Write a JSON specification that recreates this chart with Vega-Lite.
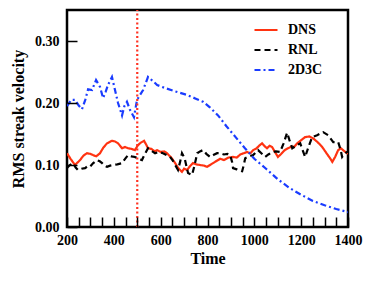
{
  "$schema": "https://vega.github.io/schema/vega-lite/v6.json",
  "autosize": "none",
  "width": 281,
  "height": 217,
  "padding": {"left": 67, "top": 10, "right": 26, "bottom": 57},
  "background": "white",
  "config": {
    "view": {"stroke": "black", "strokeWidth": 2.5}
  },
  "datasets": {
    "curves": [
      {"t": 200, "v": 0.119, "s": "DNS"}, {"t": 215, "v": 0.110, "s": "DNS"}, {"t": 234, "v": 0.100, "s": "DNS"}, {"t": 256, "v": 0.108, "s": "DNS"}, {"t": 270, "v": 0.115, "s": "DNS"}, {"t": 285, "v": 0.119, "s": "DNS"}, {"t": 300, "v": 0.118, "s": "DNS"}, {"t": 311, "v": 0.116, "s": "DNS"}, {"t": 325, "v": 0.114, "s": "DNS"}, {"t": 341, "v": 0.119, "s": "DNS"}, {"t": 355, "v": 0.128, "s": "DNS"}, {"t": 371, "v": 0.135, "s": "DNS"}, {"t": 392, "v": 0.139, "s": "DNS"}, {"t": 405, "v": 0.138, "s": "DNS"}, {"t": 418, "v": 0.135, "s": "DNS"}, {"t": 435, "v": 0.127, "s": "DNS"}, {"t": 448, "v": 0.129, "s": "DNS"}, {"t": 461, "v": 0.127, "s": "DNS"}, {"t": 475, "v": 0.126, "s": "DNS"}, {"t": 490, "v": 0.124, "s": "DNS"}, {"t": 503, "v": 0.132, "s": "DNS"}, {"t": 515, "v": 0.136, "s": "DNS"}, {"t": 529, "v": 0.139, "s": "DNS"}, {"t": 538, "v": 0.133, "s": "DNS"}, {"t": 546, "v": 0.127, "s": "DNS"}, {"t": 560, "v": 0.126, "s": "DNS"}, {"t": 575, "v": 0.122, "s": "DNS"}, {"t": 585, "v": 0.124, "s": "DNS"}, {"t": 600, "v": 0.121, "s": "DNS"}, {"t": 615, "v": 0.122, "s": "DNS"}, {"t": 627, "v": 0.119, "s": "DNS"}, {"t": 645, "v": 0.112, "s": "DNS"}, {"t": 662, "v": 0.103, "s": "DNS"}, {"t": 675, "v": 0.095, "s": "DNS"}, {"t": 691, "v": 0.089, "s": "DNS"}, {"t": 700, "v": 0.094, "s": "DNS"}, {"t": 713, "v": 0.092, "s": "DNS"}, {"t": 725, "v": 0.098, "s": "DNS"}, {"t": 738, "v": 0.103, "s": "DNS"}, {"t": 752, "v": 0.101, "s": "DNS"}, {"t": 768, "v": 0.100, "s": "DNS"}, {"t": 785, "v": 0.099, "s": "DNS"}, {"t": 798, "v": 0.097, "s": "DNS"}, {"t": 815, "v": 0.101, "s": "DNS"}, {"t": 832, "v": 0.105, "s": "DNS"}, {"t": 854, "v": 0.110, "s": "DNS"}, {"t": 870, "v": 0.108, "s": "DNS"}, {"t": 890, "v": 0.112, "s": "DNS"}, {"t": 909, "v": 0.113, "s": "DNS"}, {"t": 925, "v": 0.112, "s": "DNS"}, {"t": 940, "v": 0.117, "s": "DNS"}, {"t": 955, "v": 0.119, "s": "DNS"}, {"t": 969, "v": 0.121, "s": "DNS"}, {"t": 983, "v": 0.119, "s": "DNS"}, {"t": 995, "v": 0.124, "s": "DNS"}, {"t": 1010, "v": 0.127, "s": "DNS"}, {"t": 1020, "v": 0.131, "s": "DNS"}, {"t": 1033, "v": 0.135, "s": "DNS"}, {"t": 1045, "v": 0.130, "s": "DNS"}, {"t": 1054, "v": 0.127, "s": "DNS"}, {"t": 1065, "v": 0.131, "s": "DNS"}, {"t": 1076, "v": 0.129, "s": "DNS"}, {"t": 1088, "v": 0.121, "s": "DNS"}, {"t": 1101, "v": 0.113, "s": "DNS"}, {"t": 1115, "v": 0.118, "s": "DNS"}, {"t": 1130, "v": 0.124, "s": "DNS"}, {"t": 1144, "v": 0.127, "s": "DNS"}, {"t": 1160, "v": 0.130, "s": "DNS"}, {"t": 1170, "v": 0.129, "s": "DNS"}, {"t": 1183, "v": 0.135, "s": "DNS"}, {"t": 1200, "v": 0.140, "s": "DNS"}, {"t": 1217, "v": 0.145, "s": "DNS"}, {"t": 1235, "v": 0.146, "s": "DNS"}, {"t": 1251, "v": 0.143, "s": "DNS"}, {"t": 1270, "v": 0.137, "s": "DNS"}, {"t": 1290, "v": 0.129, "s": "DNS"}, {"t": 1310, "v": 0.118, "s": "DNS"}, {"t": 1325, "v": 0.110, "s": "DNS"}, {"t": 1333, "v": 0.105, "s": "DNS"}, {"t": 1345, "v": 0.113, "s": "DNS"}, {"t": 1358, "v": 0.124, "s": "DNS"}, {"t": 1370, "v": 0.127, "s": "DNS"}, {"t": 1385, "v": 0.122, "s": "DNS"}, {"t": 1400, "v": 0.118, "s": "DNS"},

      {"t": 200, "v": 0.095, "s": "RNL"}, {"t": 212, "v": 0.100, "s": "RNL"}, {"t": 226, "v": 0.103, "s": "RNL"}, {"t": 237, "v": 0.096, "s": "RNL"}, {"t": 247, "v": 0.092, "s": "RNL"}, {"t": 262, "v": 0.094, "s": "RNL"}, {"t": 277, "v": 0.095, "s": "RNL"}, {"t": 288, "v": 0.098, "s": "RNL"}, {"t": 298, "v": 0.097, "s": "RNL"}, {"t": 312, "v": 0.103, "s": "RNL"}, {"t": 328, "v": 0.108, "s": "RNL"}, {"t": 340, "v": 0.106, "s": "RNL"}, {"t": 350, "v": 0.103, "s": "RNL"}, {"t": 360, "v": 0.099, "s": "RNL"}, {"t": 371, "v": 0.097, "s": "RNL"}, {"t": 384, "v": 0.099, "s": "RNL"}, {"t": 397, "v": 0.100, "s": "RNL"}, {"t": 415, "v": 0.101, "s": "RNL"}, {"t": 435, "v": 0.103, "s": "RNL"}, {"t": 448, "v": 0.110, "s": "RNL"}, {"t": 461, "v": 0.116, "s": "RNL"}, {"t": 475, "v": 0.114, "s": "RNL"}, {"t": 490, "v": 0.113, "s": "RNL"}, {"t": 505, "v": 0.110, "s": "RNL"}, {"t": 520, "v": 0.108, "s": "RNL"}, {"t": 533, "v": 0.118, "s": "RNL"}, {"t": 546, "v": 0.127, "s": "RNL"}, {"t": 560, "v": 0.123, "s": "RNL"}, {"t": 576, "v": 0.119, "s": "RNL"}, {"t": 592, "v": 0.121, "s": "RNL"}, {"t": 610, "v": 0.119, "s": "RNL"}, {"t": 625, "v": 0.116, "s": "RNL"}, {"t": 640, "v": 0.113, "s": "RNL"}, {"t": 652, "v": 0.107, "s": "RNL"}, {"t": 662, "v": 0.100, "s": "RNL"}, {"t": 674, "v": 0.092, "s": "RNL"}, {"t": 683, "v": 0.105, "s": "RNL"}, {"t": 691, "v": 0.119, "s": "RNL"}, {"t": 698, "v": 0.114, "s": "RNL"}, {"t": 704, "v": 0.108, "s": "RNL"}, {"t": 717, "v": 0.087, "s": "RNL"}, {"t": 734, "v": 0.084, "s": "RNL"}, {"t": 745, "v": 0.100, "s": "RNL"}, {"t": 756, "v": 0.119, "s": "RNL"}, {"t": 768, "v": 0.122, "s": "RNL"}, {"t": 781, "v": 0.124, "s": "RNL"}, {"t": 795, "v": 0.118, "s": "RNL"}, {"t": 811, "v": 0.113, "s": "RNL"}, {"t": 825, "v": 0.116, "s": "RNL"}, {"t": 841, "v": 0.119, "s": "RNL"}, {"t": 854, "v": 0.119, "s": "RNL"}, {"t": 870, "v": 0.117, "s": "RNL"}, {"t": 885, "v": 0.118, "s": "RNL"}, {"t": 897, "v": 0.116, "s": "RNL"}, {"t": 905, "v": 0.105, "s": "RNL"}, {"t": 909, "v": 0.095, "s": "RNL"}, {"t": 925, "v": 0.093, "s": "RNL"}, {"t": 940, "v": 0.091, "s": "RNL"}, {"t": 948, "v": 0.090, "s": "RNL"}, {"t": 955, "v": 0.100, "s": "RNL"}, {"t": 961, "v": 0.111, "s": "RNL"}, {"t": 978, "v": 0.114, "s": "RNL"}, {"t": 995, "v": 0.116, "s": "RNL"}, {"t": 1005, "v": 0.120, "s": "RNL"}, {"t": 1016, "v": 0.124, "s": "RNL"}, {"t": 1030, "v": 0.119, "s": "RNL"}, {"t": 1046, "v": 0.113, "s": "RNL"}, {"t": 1060, "v": 0.117, "s": "RNL"}, {"t": 1076, "v": 0.121, "s": "RNL"}, {"t": 1092, "v": 0.122, "s": "RNL"}, {"t": 1110, "v": 0.121, "s": "RNL"}, {"t": 1125, "v": 0.135, "s": "RNL"}, {"t": 1140, "v": 0.152, "s": "RNL"}, {"t": 1150, "v": 0.140, "s": "RNL"}, {"t": 1162, "v": 0.127, "s": "RNL"}, {"t": 1178, "v": 0.131, "s": "RNL"}, {"t": 1196, "v": 0.135, "s": "RNL"}, {"t": 1205, "v": 0.125, "s": "RNL"}, {"t": 1217, "v": 0.113, "s": "RNL"}, {"t": 1232, "v": 0.130, "s": "RNL"}, {"t": 1247, "v": 0.145, "s": "RNL"}, {"t": 1268, "v": 0.148, "s": "RNL"}, {"t": 1294, "v": 0.153, "s": "RNL"}, {"t": 1315, "v": 0.148, "s": "RNL"}, {"t": 1337, "v": 0.137, "s": "RNL"}, {"t": 1358, "v": 0.137, "s": "RNL"}, {"t": 1368, "v": 0.125, "s": "RNL"}, {"t": 1375, "v": 0.113, "s": "RNL"}, {"t": 1385, "v": 0.118, "s": "RNL"}, {"t": 1400, "v": 0.122, "s": "RNL"},

      {"t": 200, "v": 0.195, "s": "2D3C"}, {"t": 218, "v": 0.205, "s": "2D3C"}, {"t": 234, "v": 0.205, "s": "2D3C"}, {"t": 250, "v": 0.196, "s": "2D3C"}, {"t": 264, "v": 0.190, "s": "2D3C"}, {"t": 278, "v": 0.205, "s": "2D3C"}, {"t": 290, "v": 0.222, "s": "2D3C"}, {"t": 307, "v": 0.221, "s": "2D3C"}, {"t": 324, "v": 0.237, "s": "2D3C"}, {"t": 341, "v": 0.226, "s": "2D3C"}, {"t": 354, "v": 0.208, "s": "2D3C"}, {"t": 365, "v": 0.218, "s": "2D3C"}, {"t": 375, "v": 0.229, "s": "2D3C"}, {"t": 392, "v": 0.242, "s": "2D3C"}, {"t": 405, "v": 0.221, "s": "2D3C"}, {"t": 418, "v": 0.200, "s": "2D3C"}, {"t": 435, "v": 0.180, "s": "2D3C"}, {"t": 445, "v": 0.195, "s": "2D3C"}, {"t": 456, "v": 0.202, "s": "2D3C"}, {"t": 469, "v": 0.189, "s": "2D3C"}, {"t": 486, "v": 0.177, "s": "2D3C"}, {"t": 499, "v": 0.205, "s": "2D3C"}, {"t": 512, "v": 0.213, "s": "2D3C"}, {"t": 525, "v": 0.221, "s": "2D3C"}, {"t": 546, "v": 0.242, "s": "2D3C"}, {"t": 565, "v": 0.236, "s": "2D3C"}, {"t": 585, "v": 0.229, "s": "2D3C"}, {"t": 620, "v": 0.224, "s": "2D3C"}, {"t": 660, "v": 0.219, "s": "2D3C"}, {"t": 713, "v": 0.213, "s": "2D3C"}, {"t": 750, "v": 0.207, "s": "2D3C"}, {"t": 781, "v": 0.202, "s": "2D3C"}, {"t": 810, "v": 0.193, "s": "2D3C"}, {"t": 845, "v": 0.180, "s": "2D3C"}, {"t": 880, "v": 0.163, "s": "2D3C"}, {"t": 920, "v": 0.145, "s": "2D3C"}, {"t": 960, "v": 0.127, "s": "2D3C"}, {"t": 1000, "v": 0.110, "s": "2D3C"}, {"t": 1050, "v": 0.094, "s": "2D3C"}, {"t": 1100, "v": 0.077, "s": "2D3C"}, {"t": 1150, "v": 0.063, "s": "2D3C"}, {"t": 1200, "v": 0.052, "s": "2D3C"}, {"t": 1250, "v": 0.042, "s": "2D3C"}, {"t": 1300, "v": 0.035, "s": "2D3C"}, {"t": 1350, "v": 0.029, "s": "2D3C"}, {"t": 1400, "v": 0.024, "s": "2D3C"},

      {"t": 500, "v": 0.0, "s": "t = 500"}, {"t": 500, "v": 0.35, "s": "t = 500"}
    ]
  },
  "data": {"name": "curves"},
  "mark": {"type": "line", "clip": true},
  "encoding": {
    "x": {
      "field": "t", "type": "quantitative",
      "scale": {"domain": [200, 1400], "nice": false, "zero": false},
      "axis": {
        "title": "Time",
        "zindex": 1,
        "gridOpacity": 0,
        "domainOpacity": 0,
        "ticks": true,
        "tickOpacity": 1,
        "tickCount": 24,
        "labelExpr": "datum.value % 200 === 0 ? datum.label : ''",
        "labelOverlap": false,
        "labelFlush": false,
        "format": "d",
        "tickColor": "black",
        "tickWidth": 1.5,
        "tickSize": -10,
        "labelPadding": 16,
        "labelFont": "Liberation Serif",
        "labelFontWeight": "bold",
        "labelFontSize": 14,
        "labelColor": "black",
        "titleFont": "Liberation Serif",
        "titleFontWeight": "bold",
        "titleFontSize": 16,
        "titleColor": "black",
        "titlePadding": 3,
        "encode": {"ticks": {"update": {"y": {"value": 0}, "y2": {"signal": "datum.value % 200 === 0 ? -10 : -5"}}}}
      }
    },
    "y": {
      "field": "v", "type": "quantitative",
      "scale": {"domain": [0, 0.35], "nice": false},
      "axis": {
        "title": "RMS streak velocity",
        "zindex": 1,
        "gridOpacity": 0,
        "domainOpacity": 0,
        "ticks": true,
        "tickOpacity": 1,
        "tickCount": 4,
        "format": ".2f",
        "labelFlush": false,
        "tickColor": "black",
        "tickWidth": 1.5,
        "tickSize": -10,
        "labelPadding": 18,
        "labelFont": "Liberation Serif",
        "labelFontWeight": "bold",
        "labelFontSize": 14,
        "labelColor": "black",
        "titleFont": "Liberation Serif",
        "titleFontWeight": "bold",
        "titleFontSize": 16,
        "titleColor": "black",
        "titlePadding": 8,
        "encode": {"ticks": {"update": {"x": {"value": 0}, "x2": {"value": 10}}}}
      }
    },
    "color": {
      "field": "s", "type": "nominal",
      "scale": {"domain": ["DNS", "RNL", "2D3C", "t = 500"], "range": ["#ff3311", "#000000", "#1a3cff", "#ff3322"]},
      "legend": {
        "title": null,
        "values": ["DNS", "RNL", "2D3C"],
        "orient": "none",
        "legendX": 186,
        "legendY": 7,
        "symbolType": "stroke",
        "symbolSize": 529,
        "symbolStrokeWidth": 2.5,
        "labelFont": "Liberation Serif",
        "labelFontWeight": "bold",
        "labelFontSize": 14,
        "labelColor": "black",
        "rowPadding": -4,
        "labelOffset": 9
      }
    },
    "strokeDash": {
      "field": "s", "type": "nominal",
      "scale": {"domain": ["DNS", "RNL", "2D3C", "t = 500"], "range": [[1, 0], [6, 4], [6, 3, 2, 3], [2, 2.5]]},
      "legend": {
        "title": null,
        "values": ["DNS", "RNL", "2D3C"],
        "orient": "none",
        "legendX": 186,
        "legendY": 7,
        "symbolType": "stroke",
        "symbolSize": 529,
        "symbolStrokeWidth": 2.5,
        "labelFont": "Liberation Serif",
        "labelFontWeight": "bold",
        "labelFontSize": 14,
        "labelColor": "black",
        "rowPadding": -4,
        "labelOffset": 9
      }
    },
    "strokeWidth": {
      "field": "s", "type": "nominal",
      "scale": {"domain": ["DNS", "RNL", "2D3C", "t = 500"], "range": [2.2, 2.2, 2.2, 1.5]},
      "legend": null
    }
  }
}
